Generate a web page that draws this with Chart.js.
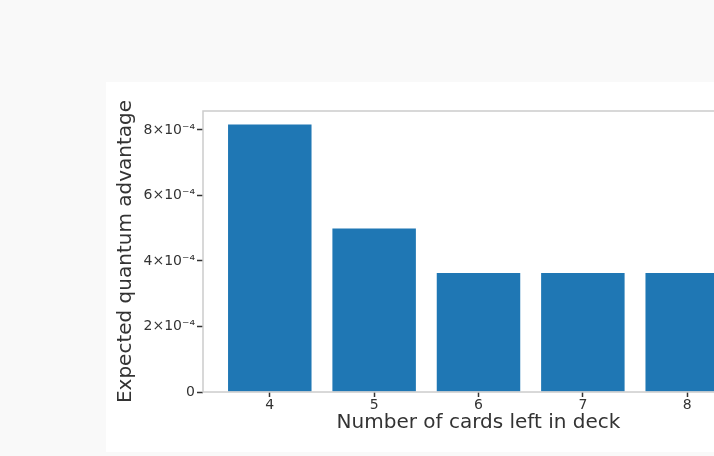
<!DOCTYPE html>
<html>
<head>
<meta charset="utf-8">
<script src="https://cdn.jsdelivr.net/npm/chart.js@4/dist/chart.umd.min.js"></script>
<style>
  html, body { margin: 0; padding: 0; width: 714px; height: 456px; overflow: hidden; background: #f9f9f9; }
  #panel { position: absolute; left: 106px; top: 82px; width: 660px; height: 370px; background: #ffffff; }
  canvas { display: block; }
</style>
</head>
<body>
<div id="panel"><canvas id="chart" width="660" height="370"></canvas></div>
<script>
// Expected quantum advantage by number of cards remaining
const cardsLeft = [4, 5, 6, 7, 8];
const advantage = [8.17e-4, 4.99e-4, 3.63e-4, 3.63e-4, 3.63e-4];
const yTickValues = [0, 2e-4, 4e-4, 6e-4, 8e-4];

const BAR_WIDTH = 0.8;
const span = (cardsLeft[cardsLeft.length - 1] + BAR_WIDTH / 2) - (cardsLeft[0] - BAR_WIDTH / 2);
const xMin = cardsLeft[0] - BAR_WIDTH / 2 - 0.05 * span;
const xMax = cardsLeft[cardsLeft.length - 1] + BAR_WIDTH / 2 + 0.05 * span;
const yMax = Math.max(...advantage) * 1.05;

const SUP = { '0': '⁰', '1': '¹', '2': '²', '3': '³', '4': '⁴', '5': '⁵', '6': '⁶', '7': '⁷', '8': '⁸', '9': '⁹', '-': '⁻' };
function sciLabel(v) {
  if (v === 0) return '0';
  const exp = Math.floor(Math.log10(v) + 1e-9);
  const mant = Math.round(v / Math.pow(10, exp));
  const e = String(exp).split('').map(ch => SUP[ch]).join('');
  return mant + '×10' + e;
}

// light frame around the plotting area
const frame = {
  id: 'frame',
  afterDatasetsDraw(chart) {
    const { ctx, chartArea: a } = chart;
    ctx.save();
    ctx.strokeStyle = '#cccccc';
    ctx.lineWidth = 1.5;
    ctx.strokeRect(a.left, a.top, a.right - a.left, a.bottom - a.top);
    ctx.restore();
  }
};

const FONT = 'DejaVu Sans';
const TEXT = '#333333';

new Chart(document.getElementById('chart'), {
  type: 'bar',
  data: {
    datasets: [{
      data: cardsLeft.map((c, i) => ({ x: c, y: advantage[i] })),
      backgroundColor: '#1f77b4',
      borderWidth: 0,
      categoryPercentage: 1.0,
      barPercentage: BAR_WIDTH
    }]
  },
  options: {
    responsive: false,
    animation: false,
    devicePixelRatio: 1,
    layout: { padding: { top: 29, right: 12, bottom: 13, left: 0 } },
    plugins: { legend: { display: false }, tooltip: { enabled: false } },
    scales: {
      x: {
        type: 'linear',
        offset: false,
        min: xMin,
        max: xMax,
        afterBuildTicks(scale) { scale.ticks = cardsLeft.map(v => ({ value: v })); },
        afterFit(scale) { scale.height = 47; },
        border: { display: false },
        grid: { offset: false, drawOnChartArea: false, drawTicks: true, tickLength: 5, tickWidth: 1.5, tickColor: '#333333' },
        ticks: {
          padding: 0,
          maxRotation: 0,
          autoSkip: false,
          color: TEXT,
          font: { family: FONT, size: 14 },
          callback: v => String(v)
        },
        title: {
          display: true,
          text: 'Number of cards left in deck',
          color: TEXT,
          padding: 4,
          font: { family: FONT, size: 20 }
        }
      },
      y: {
        min: 0,
        max: yMax,
        afterBuildTicks(scale) { scale.ticks = yTickValues.map(v => ({ value: v })); },
        afterFit(scale) { scale.width = 97; },
        border: { display: false },
        grid: { drawOnChartArea: false, drawTicks: true, tickLength: 6, tickWidth: 1.5, tickColor: '#333333' },
        ticks: {
          padding: 2,
          color: TEXT,
          font: { family: FONT, size: 14 },
          callback: v => sciLabel(v)
        },
        title: {
          display: true,
          text: 'Expected quantum advantage',
          color: TEXT,
          padding: 8,
          font: { family: FONT, size: 20 }
        }
      }
    }
  },
  plugins: [frame]
});
</script>
</body>
</html>
